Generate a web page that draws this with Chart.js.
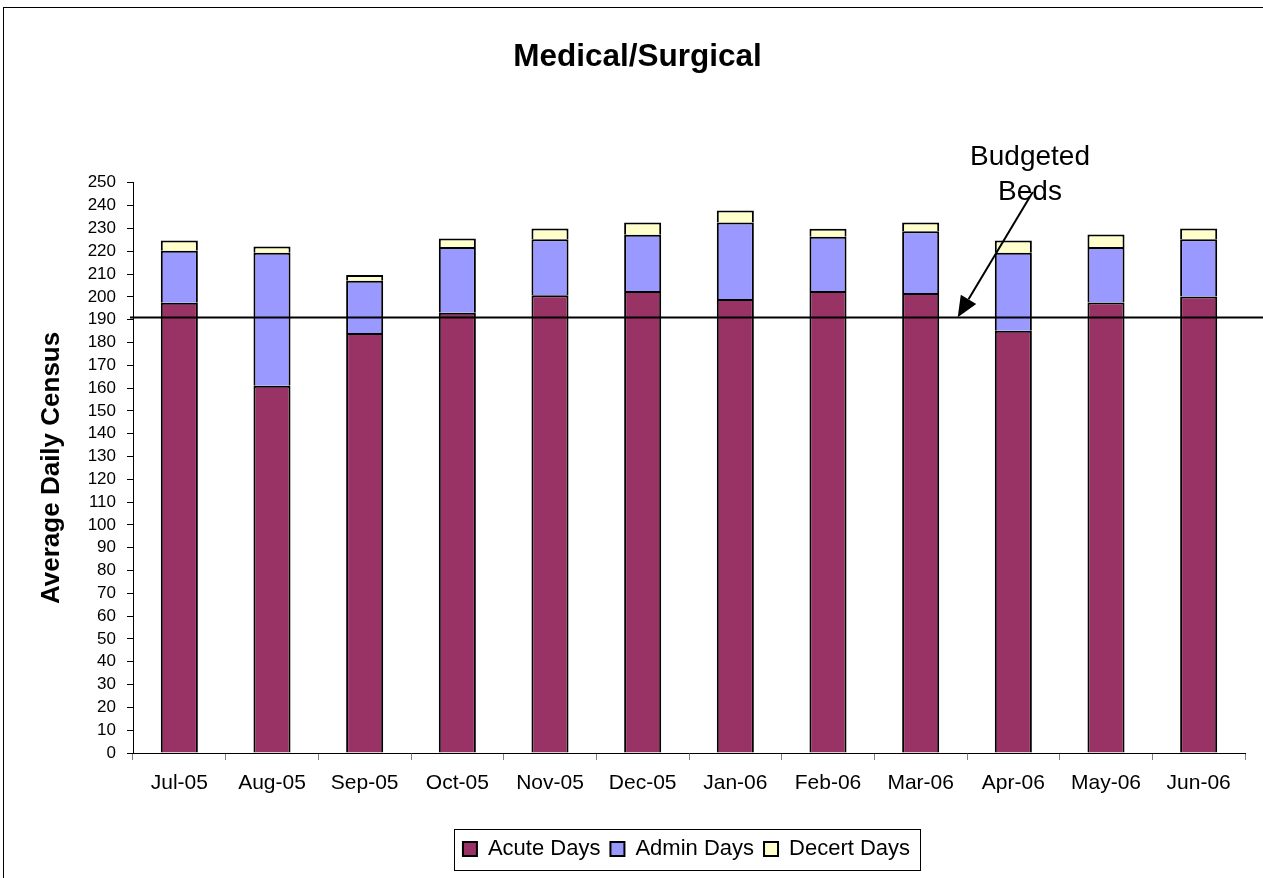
<!DOCTYPE html>
<html>
<head>
<meta charset="utf-8">
<script src="https://cdn.jsdelivr.net/npm/chart.js@4/dist/chart.umd.min.js"></script>
<style>
  html, body { margin: 0; padding: 0; background: #ffffff; }
  #wrap { width: 1263px; height: 878px; position: relative; }
</style>
</head>
<body>
<div id="wrap"><canvas id="c" width="1263" height="878"></canvas></div>
<script>
const categories = ['Jul-05','Aug-05','Sep-05','Oct-05','Nov-05','Dec-05','Jan-06','Feb-06','Mar-06','Apr-06','May-06','Jun-06'];
const acuteDays  = [197.4, 161.0, 184.2, 193.0, 200.7, 202.6, 199.1, 202.6, 201.7, 185.1, 197.5, 200.1];
const adminDays  = [22.8, 58.3, 22.8, 28.8, 24.6, 24.6, 33.5, 23.8, 27.1, 34.2, 24.4, 25.2];
const decertDays = [4.5, 2.8, 2.6, 3.8, 4.7, 5.4, 5.3, 3.4, 3.8, 5.4, 5.4, 4.7];
const budgetedBeds = 191;
const yMin = 0, yMax = 250, yStep = 10;
const annotationText = ['Budgeted', 'Beds'];
// annotation anchor in data units (category index, value)
const arrowFrom = [9.21, 246];
const arrowTo = [8.40, budgetedBeds];
const annotationAt = [9.18, [261, 246]];

const FONT = "'Liberation Sans', Arial, sans-serif";
const TITLE_SHIFT = 15;
const LEGEND_SHIFT = 64;

const overlay = {
  id: 'overlay',
  afterLayout(chart) {
    if (chart.titleBlock) { chart.titleBlock.left += TITLE_SHIFT; chart.titleBlock.right += TITLE_SHIFT; }
    if (chart.legend) { chart.legend.left += LEGEND_SHIFT; chart.legend.right += LEGEND_SHIFT; }
  },
  beforeDraw(chart) {
    const ctx = chart.ctx;
    ctx.save();
    ctx.fillStyle = '#ffffff';
    ctx.fillRect(0, 0, chart.width, chart.height);
    ctx.strokeStyle = '#000000';
    ctx.lineWidth = 1;
    ctx.strokeRect(3.5, 7.5, chart.width + 10, chart.height + 10);
    ctx.restore();
  },
  afterDatasetsDraw(chart) {
    const ctx = chart.ctx;
    const xs = chart.scales.x, ys = chart.scales.y;
    const xAt = (i) => xs.getPixelForValue(0) + (xs.getPixelForValue(1) - xs.getPixelForValue(0)) * i;
    ctx.save();
    // budgeted beds line
    const by = Math.round(ys.getPixelForValue(budgetedBeds)) + 0.5;
    ctx.strokeStyle = '#000000';
    ctx.lineWidth = 2;
    ctx.beginPath();
    ctx.moveTo(xs.left - 3, by);
    ctx.lineTo(chart.width, by);
    ctx.stroke();
    // arrow
    const x1 = xAt(arrowFrom[0]), y1 = ys.getPixelForValue(arrowFrom[1]);
    const x2 = xAt(arrowTo[0]), y2 = ys.getPixelForValue(arrowTo[1]);
    const ang = Math.atan2(y2 - y1, x2 - x1);
    const headLen = 21, headW = 9;
    const bx = x2 - headLen * Math.cos(ang), byy = y2 - headLen * Math.sin(ang);
    ctx.lineWidth = 2;
    ctx.beginPath();
    ctx.moveTo(x1, y1);
    ctx.lineTo(bx, byy);
    ctx.stroke();
    ctx.fillStyle = '#000000';
    ctx.beginPath();
    ctx.moveTo(x2, y2);
    ctx.lineTo(bx + headW * Math.sin(ang), byy - headW * Math.cos(ang));
    ctx.lineTo(bx - headW * Math.sin(ang), byy + headW * Math.cos(ang));
    ctx.closePath();
    ctx.fill();
    // annotation text
    ctx.font = '28px ' + FONT;
    ctx.textAlign = 'center';
    ctx.textBaseline = 'middle';
    ctx.fillStyle = '#000000';
    const tx = xAt(annotationAt[0]);
    annotationText.forEach((t, k) => ctx.fillText(t, tx, ys.getPixelForValue(annotationAt[1][k])));
    ctx.restore();
  },
  afterDraw(chart) {
    const lg = chart.legend;
    if (!lg || !lg.legendHitBoxes || !lg.legendHitBoxes.length) return;
    const hb = lg.legendHitBoxes;
    const first = hb[0], last = hb[hb.length - 1];
    const ctx = chart.ctx;
    ctx.save();
    ctx.strokeStyle = '#000000';
    ctx.lineWidth = 1;
    const l = Math.round(first.left - 9) + 0.5;
    const r = Math.round(last.left + last.width + 10) + 0.5;
    const t = Math.round(first.top - 9) + 0.5;
    const b = Math.round(first.top + first.height + 10) + 0.5;
    ctx.strokeRect(l, t, r - l, b - t);
    ctx.restore();
  }
};

new Chart(document.getElementById('c'), {
  type: 'bar',
  data: {
    labels: categories,
    datasets: [
      { label: 'Acute Days', data: acuteDays, backgroundColor: '#993366', borderColor: '#000000', borderWidth: 2, borderSkipped: 'start' },
      { label: 'Admin Days', data: adminDays, backgroundColor: '#9999FF', borderColor: '#000000', borderWidth: 2, borderSkipped: 'start' },
      { label: 'Decert Days', data: decertDays, backgroundColor: '#FFFFCC', borderColor: '#000000', borderWidth: 2, borderSkipped: 'start' }
    ]
  },
  options: {
    responsive: false,
    animation: false,
    devicePixelRatio: 1,
    layout: { padding: { left: 0, right: 18, top: 0, bottom: 8 } },
    datasets: { bar: { barPercentage: 0.4, categoryPercentage: 1.0 } },
    scales: {
      x: {
        stacked: true,
        offset: true,
        grid: { display: true, drawOnChartArea: false, offset: true, tickLength: 7, color: '#808080', tickColor: '#808080' },
        border: { display: true, color: '#000000', width: 1 },
        ticks: { color: '#000000', font: { family: FONT, size: 21 }, padding: 11, maxRotation: 0, autoSkip: false },
        afterFit: (s) => { s.height = 75; }
      },
      y: {
        stacked: true,
        min: yMin, max: yMax,
        grid: { display: true, drawOnChartArea: false, tickLength: 6, color: '#000000', tickColor: '#000000' },
        border: { display: true, color: '#000000', width: 1 },
        ticks: { stepSize: yStep, autoSkip: false, color: '#000000', font: { family: FONT, size: 17 }, padding: 11 },
        title: { display: true, text: 'Average Daily Census', color: '#000000', font: { family: FONT, size: 26, weight: 'bold' }, padding: { top: 36, bottom: 0 } },
        afterFit: (s) => { s.width = 133; }
      }
    },
    plugins: {
      title: {
        display: true,
        text: 'Medical/Surgical',
        color: '#000000',
        font: { family: FONT, size: 31.5, weight: 'bold', lineHeight: 1.2 },
        padding: { top: 38, bottom: 107 }
      },
      legend: {
        display: true,
        position: 'bottom',
        labels: {
          color: '#000000',
          font: { family: FONT, size: 22 },
          boxWidth: 14, boxHeight: 14,
          padding: 10
        }
      },
      tooltip: { enabled: false }
    }
  },
  plugins: [overlay]
});
</script>
</body>
</html>
